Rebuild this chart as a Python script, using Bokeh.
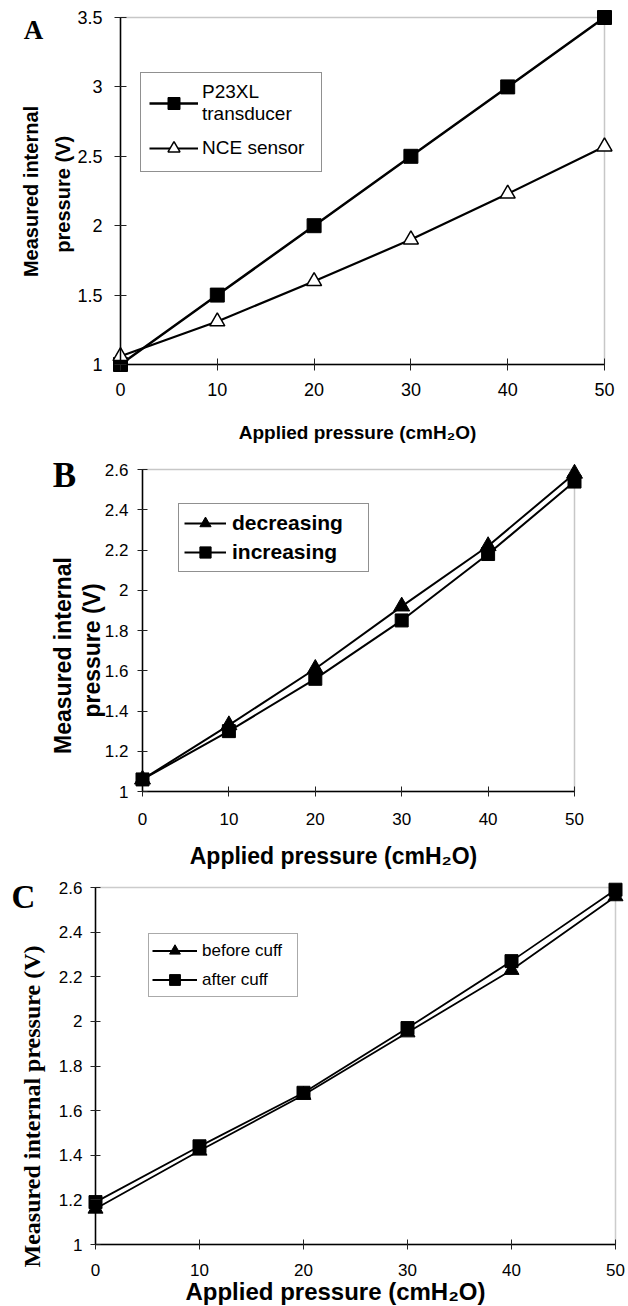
import math
from bokeh.plotting import figure
from bokeh.models import Range1d, FixedTicker, Label, Legend, LegendItem, BoxAnnotation
from bokeh.layouts import column
from bokeh.embed import file_html
from bokeh.resources import INLINE

# ---------------- data ----------------
x_pressure = [0, 10, 20, 30, 40, 50]

a_p23xl = [1.00, 1.50, 2.00, 2.50, 3.00, 3.50]
a_nce = [1.06, 1.31, 1.60, 1.90, 2.23, 2.57]

b_decreasing = [1.06, 1.33, 1.61, 1.92, 2.22, 2.58]
b_increasing = [1.06, 1.30, 1.56, 1.85, 2.18, 2.54]

c_before = [1.16, 1.42, 1.67, 1.95, 2.23, 2.56]
c_after = [1.19, 1.44, 1.68, 1.97, 2.27, 2.59]

x_ticks = [0, 10, 20, 30, 40, 50]
x_tick_labels = ["0", "10", "20", "30", "40", "50"]
a_y_ticks = [1, 1.5, 2, 2.5, 3, 3.5]
a_y_tick_labels = ["1", "1.5", "2", "2.5", "3", "3.5"]
bc_y_ticks = [1, 1.2, 1.4, 1.6, 1.8, 2, 2.2, 2.4, 2.6]
bc_y_tick_labels = ["1", "1.2", "1.4", "1.6", "1.8", "2", "2.2", "2.4", "2.6"]

SANS = "Liberation Sans"
SERIF = "Liberation Serif"
W = 628


def make_fig(H, L, R, T, B, ymin, ymax, yticks, ylabels, tick_fs,
             ystand, xstand, tick_len, box_color):
    """Frame covers the whole canvas; the plot box (L..R, T..B in px) is
    placed through the ranges, and the axes are pinned to its edges."""
    xmin, xmax = 0, 50
    kx = (xmax - xmin) / (R - L)
    ky = (ymax - ymin) / (B - T)
    p = figure(
        output_backend="svg", toolbar_location=None,
        width=W, height=H, min_border=0,
        x_range=Range1d(xmin - L * kx, xmax + (W - R) * kx),
        y_range=Range1d(ymin - (H - B) * ky, ymax + T * ky),
    )
    p.xgrid.visible = False
    p.ygrid.visible = False
    p.outline_line_color = None
    p.background_fill_color = "white"
    p.border_fill_color = "white"
    p.add_layout(BoxAnnotation(left=xmin, right=xmax, bottom=ymin, top=ymax,
                               fill_alpha=0, line_color=box_color, line_width=1.5,
                               level="underlay"))
    p.xaxis.fixed_location = ymin
    p.yaxis.fixed_location = xmin
    p.xaxis.bounds = (xmin, xmax)
    p.yaxis.bounds = (ymin, ymax)
    for ax, ticks, labels, stand in ((p.xaxis[0], x_ticks, x_tick_labels, xstand),
                                     (p.yaxis[0], yticks, ylabels, ystand)):
        ax.ticker = FixedTicker(ticks=ticks, minor_ticks=[])
        ax.major_label_overrides = {t: l for t, l in zip(ticks, labels)}
        ax.major_label_text_font = SANS
        ax.major_label_text_font_size = f"{tick_fs}px"
        ax.major_label_text_color = "black"
        ax.major_label_standoff = stand
        ax.axis_line_color = "black"
        ax.axis_line_width = 1.5
        ax.major_tick_line_color = "#222222"
        ax.major_tick_line_width = 1
        ax.major_tick_in = tick_len
        ax.major_tick_out = tick_len
        ax.minor_tick_line_color = None
    return p


def add_text(p, H, top, px, py, text, size, font=SANS, angle=0.0):
    p.add_layout(Label(
        x=px, y=H - (py - top), x_units="screen", y_units="screen",
        text=text, text_font=font, text_font_size=f"{size}px",
        text_font_style="bold", text_color="black",
        text_align="center", text_baseline="middle", angle=angle,
    ))


def style_legend(lg, font_size, bold, gw, gh, pad, spacing, stand, lw, border):
    lg.label_text_font = SANS
    lg.label_text_font_size = f"{font_size}px"
    lg.label_text_font_style = "bold" if bold else "normal"
    lg.label_text_color = "black"
    lg.glyph_width = gw
    lg.glyph_height = gh
    lg.padding = pad
    lg.spacing = spacing
    lg.label_standoff = stand
    lg.label_width = lw
    lg.margin = 0
    lg.border_line_color = border
    lg.border_line_width = 1
    lg.background_fill_color = "white"
    lg.background_fill_alpha = 1


# ---------------- panel A ----------------
top, H = 0, 447
pA = make_fig(H, 120, 604, 17, 364, 1, 3.5, a_y_ticks, a_y_tick_labels, 18, 12, 12, 6, "#444444")
la1 = pA.line(x_pressure, a_p23xl, line_color="black", line_width=2.5)
sa1 = pA.scatter(x_pressure, a_p23xl, marker="square", size=14,
                 fill_color="black", line_color="black")
la2 = pA.line(x_pressure, a_nce, line_color="black", line_width=2.2)
sa2 = pA.scatter(x_pressure, a_nce, marker="triangle", size=15,
                 fill_color="white", line_color="black", line_width=1.5)
legA = Legend(items=[LegendItem(label="P23XL\ntransducer", renderers=[la1, sa1]),
                     LegendItem(label="NCE sensor", renderers=[la2, sa2])],
              location=(140, H - (172 - top)))
style_legend(legA, 19, False, 49, 30, 8, 8, 4, 111, "#222222")
pA.add_layout(legA)
add_text(pA, H, top, 33, 29, "A", 27, SERIF)
add_text(pA, H, top, 30, 191, "Measured internal", 20, angle=math.pi / 2)
add_text(pA, H, top, 62, 191, "pressure  (V)", 20, angle=math.pi / 2)
add_text(pA, H, top, 357, 432, "Applied pressure (cmH\u2082O)", 19)

# ---------------- panel B ----------------
top, H = 447, 423
pB = make_fig(H, 142, 574, 469 - top, 791 - top, 1, 2.6, bc_y_ticks, bc_y_tick_labels,
              17, 9, 16, 5, "#444444")
lb1 = pB.line(x_pressure, b_decreasing, line_color="black", line_width=2)
sb1 = pB.scatter(x_pressure, b_decreasing, marker="triangle", size=16,
                 fill_color="black", line_color="black")
lb2 = pB.line(x_pressure, b_increasing, line_color="black", line_width=2)
sb2 = pB.scatter(x_pressure, b_increasing, marker="square", size=13,
                 fill_color="black", line_color="black")
legB = Legend(items=[LegendItem(label="decreasing", renderers=[lb1, sb1]),
                     LegendItem(label="increasing", renderers=[lb2, sb2])],
              location=(178, H - (572 - top)))
style_legend(legB, 21, True, 42, 28, 5, 1, 6, 131, "#222222")
pB.add_layout(legB)
add_text(pB, H, top, 64, 475, "B", 35, SERIF)
add_text(pB, H, top, 62, 655, "Measured internal", 23, angle=math.pi / 2)
add_text(pB, H, top, 91, 650, "pressure (V)", 23, angle=math.pi / 2)
add_text(pB, H, top, 333, 855, "Applied pressure (cmH\u2082O)", 23)

# ---------------- panel C ----------------
top, H = 870, 436
pC = make_fig(H, 95, 615, 887 - top, 1244 - top, 1, 2.6, bc_y_ticks, bc_y_tick_labels,
              17, 8, 14, 5, "#555555")
lc1 = pC.line(x_pressure, c_before, line_color="black", line_width=1.8)
sc1 = pC.scatter(x_pressure, c_before, marker="triangle", size=15,
                 fill_color="black", line_color="black")
lc2 = pC.line(x_pressure, c_after, line_color="black", line_width=1.8)
sc2 = pC.scatter(x_pressure, c_after, marker="square", size=13,
                 fill_color="black", line_color="black")
legC = Legend(items=[LegendItem(label="before cuff", renderers=[lc1, sc1]),
                     LegendItem(label="after cuff", renderers=[lc2, sc2])],
              location=(148, H - (997 - top)))
style_legend(legC, 17, False, 45, 27, 3, 2, 5, 92, "#555555")
pC.add_layout(legC)
add_text(pC, H, top, 23, 896, "C", 33, SERIF)
add_text(pC, H, top, 31, 1106, "Measured internal pressure (V)", 24, SERIF, angle=math.pi / 2)
add_text(pC, H, top, 335, 1291, "Applied pressure (cmH\u2082O)", 24)

layout = column(pA, pB, pC, spacing=0)
open("out.html", "w").write(file_html(layout, INLINE))
